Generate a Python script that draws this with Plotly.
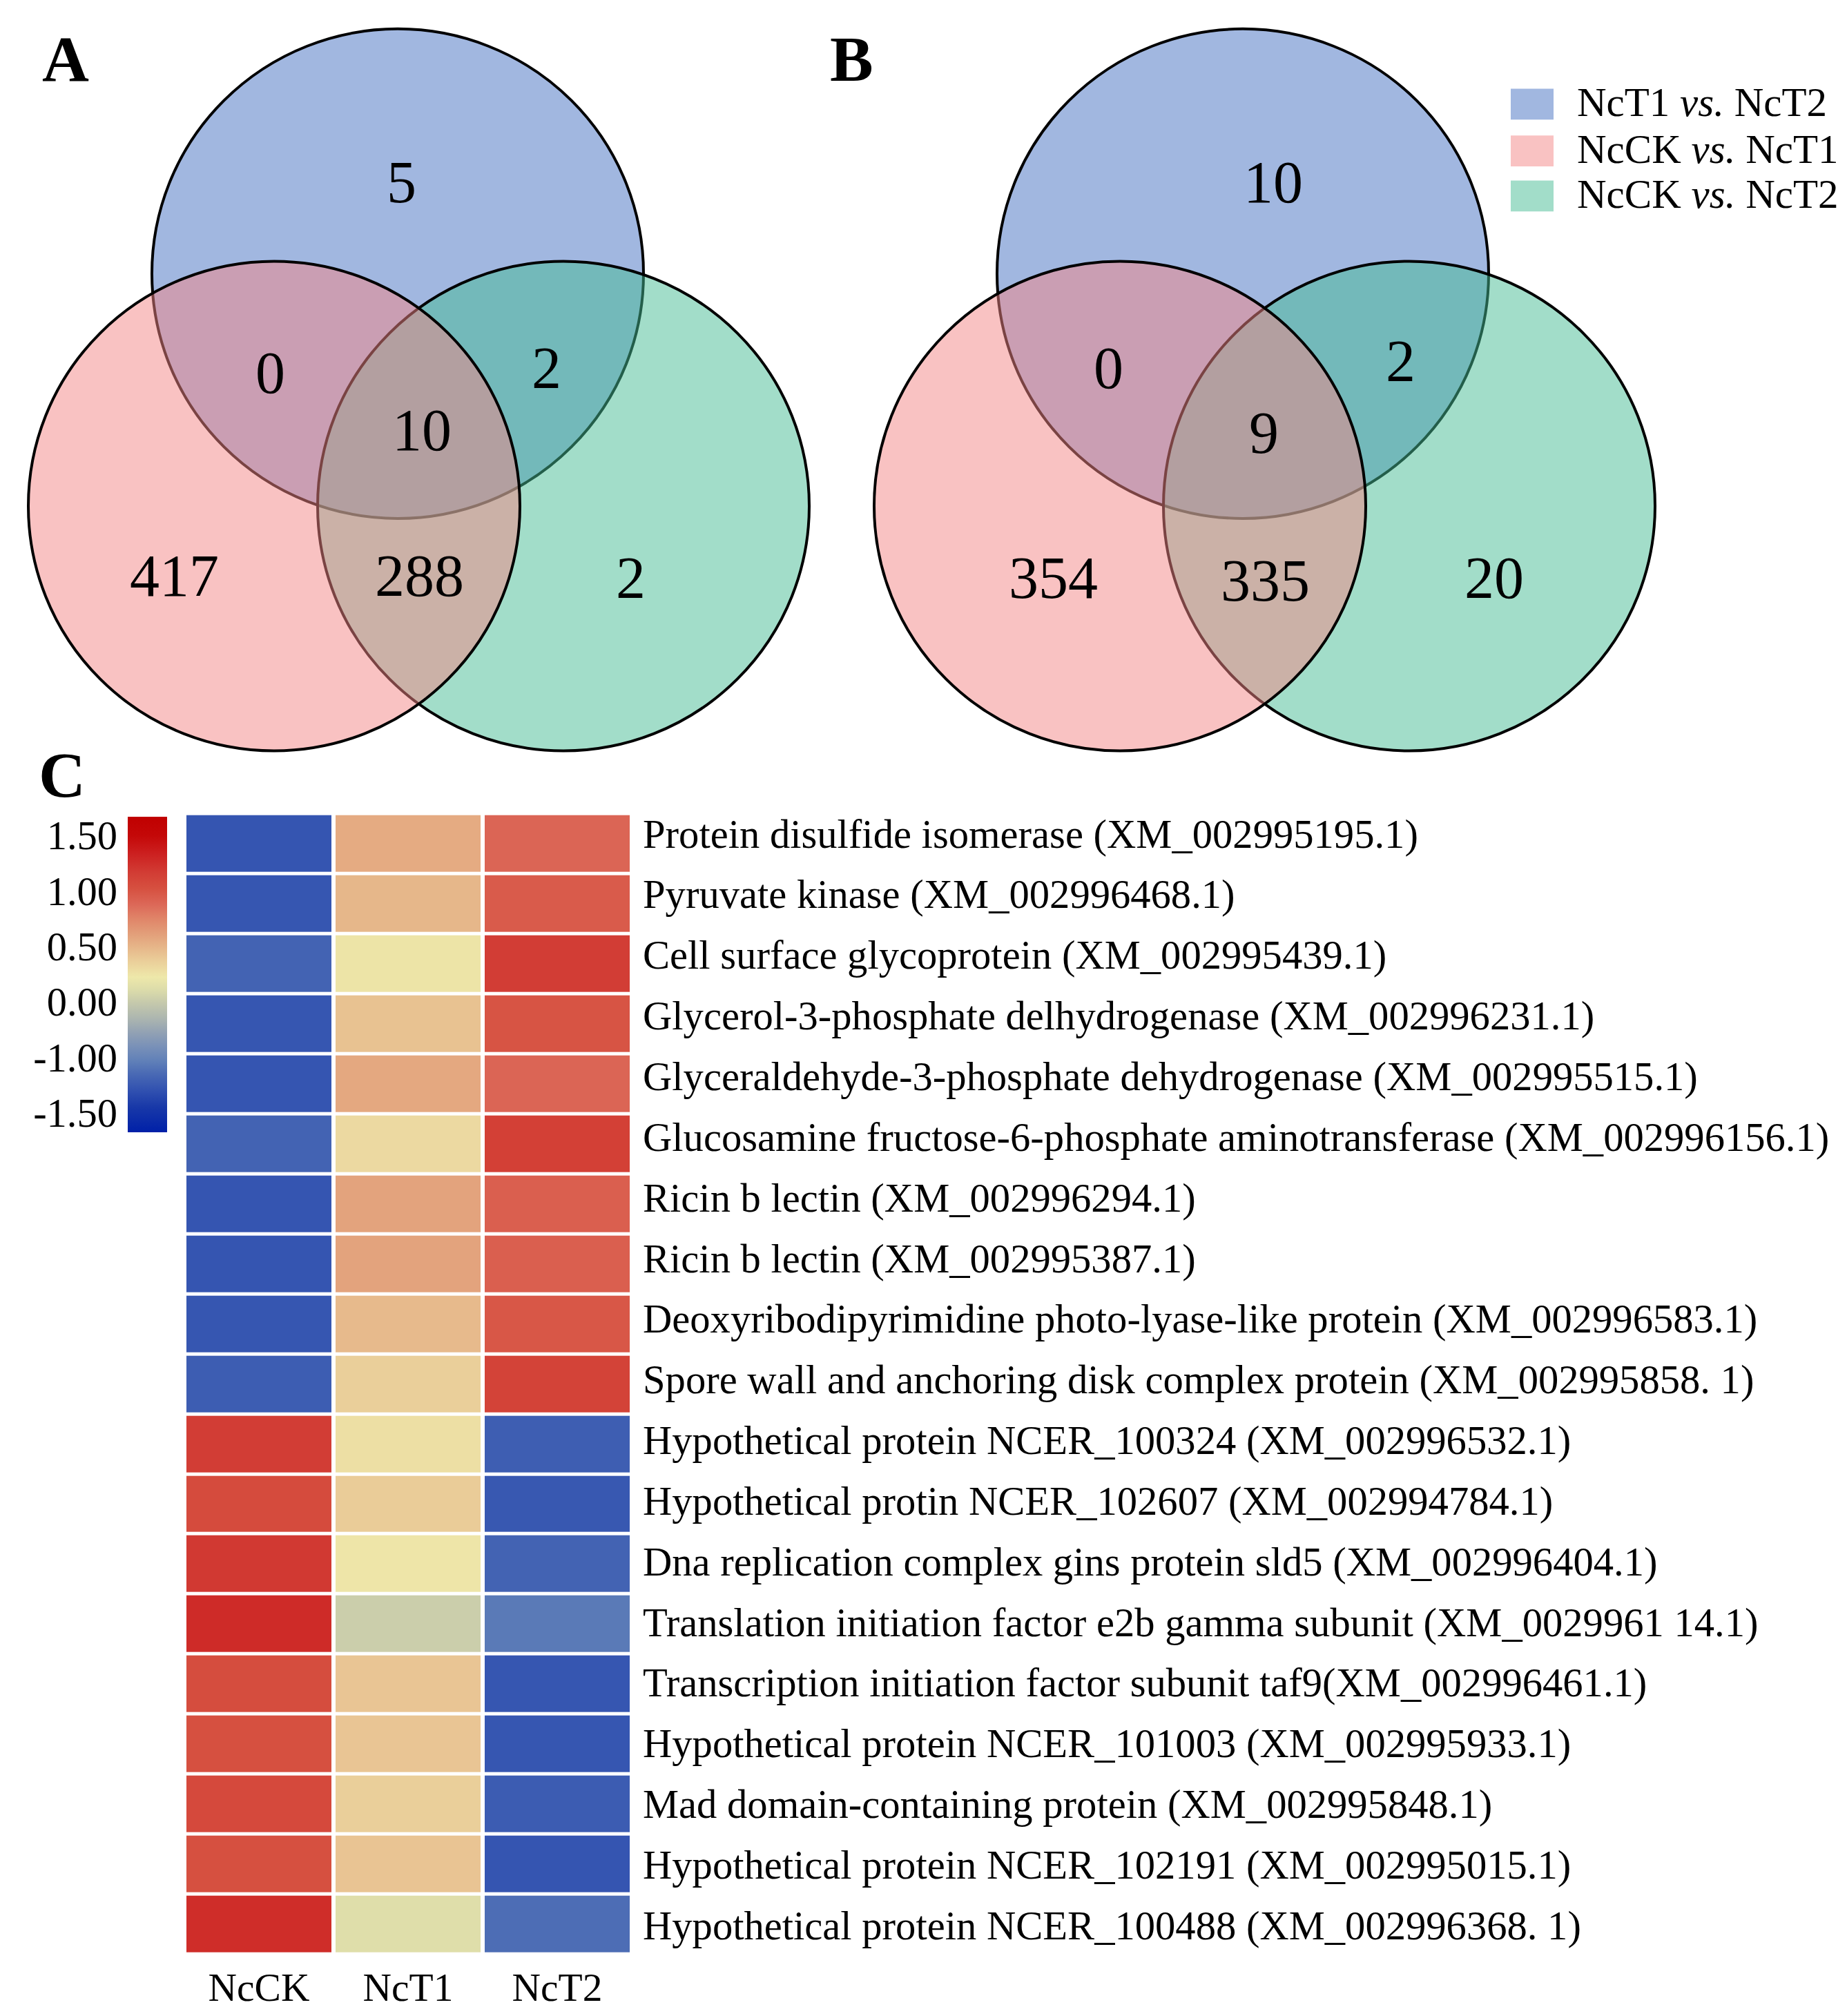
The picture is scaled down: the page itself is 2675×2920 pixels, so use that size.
import plotly.graph_objects as go

W, H = 2675, 2920
SERIF = "Liberation Serif, Times New Roman, serif"

# ---------------- data ----------------
set_names = ["NcT1 <i>vs.</i> NcT2", "NcCK <i>vs.</i> NcT1", "NcCK <i>vs.</i> NcT2"]
set_colors = ["rgba(67,111,193,0.5)", "rgba(243,133,133,0.5)", "rgba(69,187,147,0.5)"]
region_names = ["T1T2 only", "CKT1&T1T2", "T1T2&CKT2", "all three", "CKT1 only", "CKT1&CKT2", "CKT2 only"]
counts_a = [5, 0, 2, 10, 417, 288, 2]
counts_b = [10, 0, 2, 9, 354, 335, 20]

samples = ["NcCK", "NcT1", "NcT2"]
genes = [
    "Protein disulfide isomerase (XM_002995195.1)",
    "Pyruvate kinase (XM_002996468.1)",
    "Cell surface glycoprotein (XM_002995439.1)",
    "Glycerol-3-phosphate delhydrogenase (XM_002996231.1)",
    "Glyceraldehyde-3-phosphate dehydrogenase (XM_002995515.1)",
    "Glucosamine fructose-6-phosphate aminotransferase (XM_002996156.1)",
    "Ricin b lectin (XM_002996294.1)",
    "Ricin b lectin (XM_002995387.1)",
    "Deoxyribodipyrimidine photo-lyase-like protein (XM_002996583.1)",
    "Spore wall and anchoring disk complex protein (XM_002995858. 1)",
    "Hypothetical protein NCER_100324 (XM_002996532.1)",
    "Hypothetical protin NCER_102607 (XM_002994784.1)",
    "Dna replication complex gins protein sld5 (XM_002996404.1)",
    "Translation initiation factor e2b gamma subunit (XM_0029961 14.1)",
    "Transcription initiation factor subunit taf9(XM_002996461.1)",
    "Hypothetical protein NCER_101003 (XM_002995933.1)",
    "Mad domain-containing protein (XM_002995848.1)",
    "Hypothetical protein NCER_102191 (XM_002995015.1)",
    "Hypothetical protein NCER_100488 (XM_002996368. 1)",
]
ncck = [-1.22, -1.21, -1.12, -1.21, -1.22, -1.12, -1.22, -1.22, -1.21, -1.16,
        1.09, 0.97, 1.12, 1.22, 0.95, 0.93, 0.99, 0.93, 1.21]
nct1 = [0.36, 0.29, 0.00, 0.22, 0.38, 0.07, 0.41, 0.41, 0.27, 0.14,
        0.03, 0.16, -0.01, -0.27, 0.20, 0.20, 0.14, 0.21, -0.14]
nct2 = [0.78, 0.85, 1.09, 0.90, 0.78, 1.07, 0.82, 0.82, 0.88, 1.04,
        -1.15, -1.20, -1.12, -0.97, -1.21, -1.21, -1.17, -1.22, -1.05]

cbar_tickvals = [1.5, 0.9, 0.3, -0.3, -0.9, -1.5]
cbar_ticktext = ["1.50", "1.00", "0.50", "0.00", "-1.00", "-1.50"]
zmin, zmax = -1.7, 1.7

colorscale = [
    [0.0, "#0020A8"], [0.08, "#1838A8"], [0.131, "#3050B0"], [0.182, "#4868B4"],
    [0.226, "#6080B8"], [0.27, "#7890B8"], [0.313, "#90A0B4"], [0.357, "#AAB4B0"],
    [0.408, "#C4C8AC"], [0.452, "#DCDCAA"], [0.492, "#EEE8AA"], [0.547, "#EACC98"],
    [0.59, "#E6B488"], [0.634, "#E29C78"], [0.678, "#E08468"], [0.722, "#DC6858"],
    [0.773, "#D65040"], [0.824, "#D23C34"], [0.882, "#CC2020"], [0.94, "#C40808"],
    [1.0, "#C00000"],
]

# ---------------- layout geometry ----------------
R = 356
venn_a_centers = [(576, 393), (397, 731), (816, 731)]   # blue, pink, green
venn_b_centers = [(1800, 393), (1622, 731), (2041, 731)]
pos_a = [(581, 260), (391, 537), (791, 530), (611, 621), (252, 832), (607, 832), (913, 835)]
pos_b = [(1844, 260), (1605, 530), (2028, 520), (1830, 625), (1525, 835), (1832, 839), (2164, 835)]
draw_order = [0, 2, 1]  # blue, green, pink

hm_x0, hm_x1 = 267, 915
hm_y0, hm_y1 = 1178.5, 2837.5
cb_x0, cb_x1 = 185, 242
cb_y0, cb_y1 = 1183, 1640
label_x = 929

fig = go.Figure()

# Base pixel axes (for the Venn diagrams)
fig.add_trace(go.Scatter(x=[], y=[], xaxis="x", yaxis="y", showlegend=False, hoverinfo="skip"))

shapes = []
annotations = []
for centers, counts, positions in [(venn_a_centers, counts_a, pos_a), (venn_b_centers, counts_b, pos_b)]:
    for i in draw_order:
        cx, cy = centers[i]
        shapes.append(dict(type="circle", xref="x", yref="y", x0=cx - R, x1=cx + R, y0=cy - R, y1=cy + R,
                           fillcolor=set_colors[i], line=dict(color="black", width=4), layer="above"))
    for c, (px, py) in zip(counts, positions):
        annotations.append(dict(x=px, y=py, xref="x", yref="y", text=str(c), showarrow=False,
                                font=dict(family=SERIF, size=86, color="black"),
                                xanchor="center", yanchor="middle"))

# panel letters
for letter, (lx, ly) in zip(["A", "B", "C"], [(95, 80), (1233, 80), (90, 1122)]):
    annotations.append(dict(x=lx, y=ly, xref="x", yref="y", text="<b>%s</b>" % letter, showarrow=False,
                            font=dict(family=SERIF, size=94, color="black"),
                            xanchor="center", yanchor="middle"))

# legend
leg_y = [146.5, 214.5, 280]
for name, col, ly in zip(set_names, set_colors, leg_y):
    shapes.append(dict(type="rect", xref="x", yref="y", x0=2188, x1=2250, y0=ly - 22.5, y1=ly + 22.5,
                       fillcolor=col, line=dict(width=0), layer="above"))
    annotations.append(dict(x=2282, y=ly - 3, xref="x", yref="y", text=name, showarrow=False,
                            font=dict(family=SERIF, size=59, color="black"),
                            xanchor="left", yanchor="middle"))

# Heatmap
z = [[a, b, c] for a, b, c in zip(ncck, nct1, nct2)]
fig.add_trace(go.Heatmap(
    z=z, x=samples, y=genes, xaxis="x2", yaxis="y2",
    colorscale=colorscale, zmin=zmin, zmax=zmax, xgap=6, ygap=5,
    colorbar=dict(x=cb_x0 / W, xanchor="left", y=1 - cb_y0 / H, yanchor="top",
                  lenmode="pixels", len=cb_y1 - cb_y0, thicknessmode="pixels", thickness=cb_x1 - cb_x0,
                  xpad=0, ypad=0, outlinewidth=0, showticklabels=False, ticks=""),
    hoverinfo="skip",
))

# row labels, tied to the heatmap's category axis (label block is slightly more spread than rows)
n = len(genes)
for k, g in enumerate(genes):
    annotations.append(dict(x=label_x / W, y=g, xref="paper", yref="y2", text=g, showarrow=False,
                            font=dict(family=SERIF, size=58.6, color="black"),
                            xanchor="left", yanchor="middle", yshift=14 - 16 * k / (n - 1)))

# colorbar tick labels axis
fig.add_trace(go.Scatter(x=[], y=[], xaxis="x3", yaxis="y3", showlegend=False, hoverinfo="skip"))

fig.update_layout(
    width=W, height=H, autosize=False,
    margin=dict(l=0, r=0, t=0, b=0, pad=0),
    paper_bgcolor="white", plot_bgcolor="rgba(0,0,0,0)",
    showlegend=False,
    xaxis=dict(domain=[0, 1], range=[0, W], visible=False, fixedrange=True),
    yaxis=dict(domain=[0, 1], range=[H, 0], visible=False, fixedrange=True),
    xaxis2=dict(domain=[hm_x0 / W, hm_x1 / W], anchor="y2", showgrid=False, zeroline=False,
                showline=False, ticks="", side="bottom",
                tickfont=dict(family=SERIF, size=57.5, color="black"), ticklabelstandoff=9),
    yaxis2=dict(domain=[1 - hm_y1 / H, 1 - hm_y0 / H], anchor="x2", autorange="reversed",
                showticklabels=False, showgrid=False, zeroline=False, showline=False, ticks=""),
    xaxis3=dict(domain=[cb_x0 / W, cb_x1 / W], anchor="y3", range=[0, 1], visible=False),
    yaxis3=dict(domain=[1 - cb_y1 / H, 1 - cb_y0 / H], anchor="x3", range=[zmin, zmax],
                side="left", showgrid=False, zeroline=False, showline=False, ticks="",
                tickmode="array", tickvals=cbar_tickvals, ticktext=cbar_ticktext,
                tickfont=dict(family=SERIF, size=58.5, color="black"), ticklabelstandoff=14),
    shapes=shapes,
    annotations=annotations,
)

fig.write_html("out.html", config={"displayModeBar": False, "staticPlot": True},
               post_script="document.body.style.margin='0';document.body.style.padding='0';")
